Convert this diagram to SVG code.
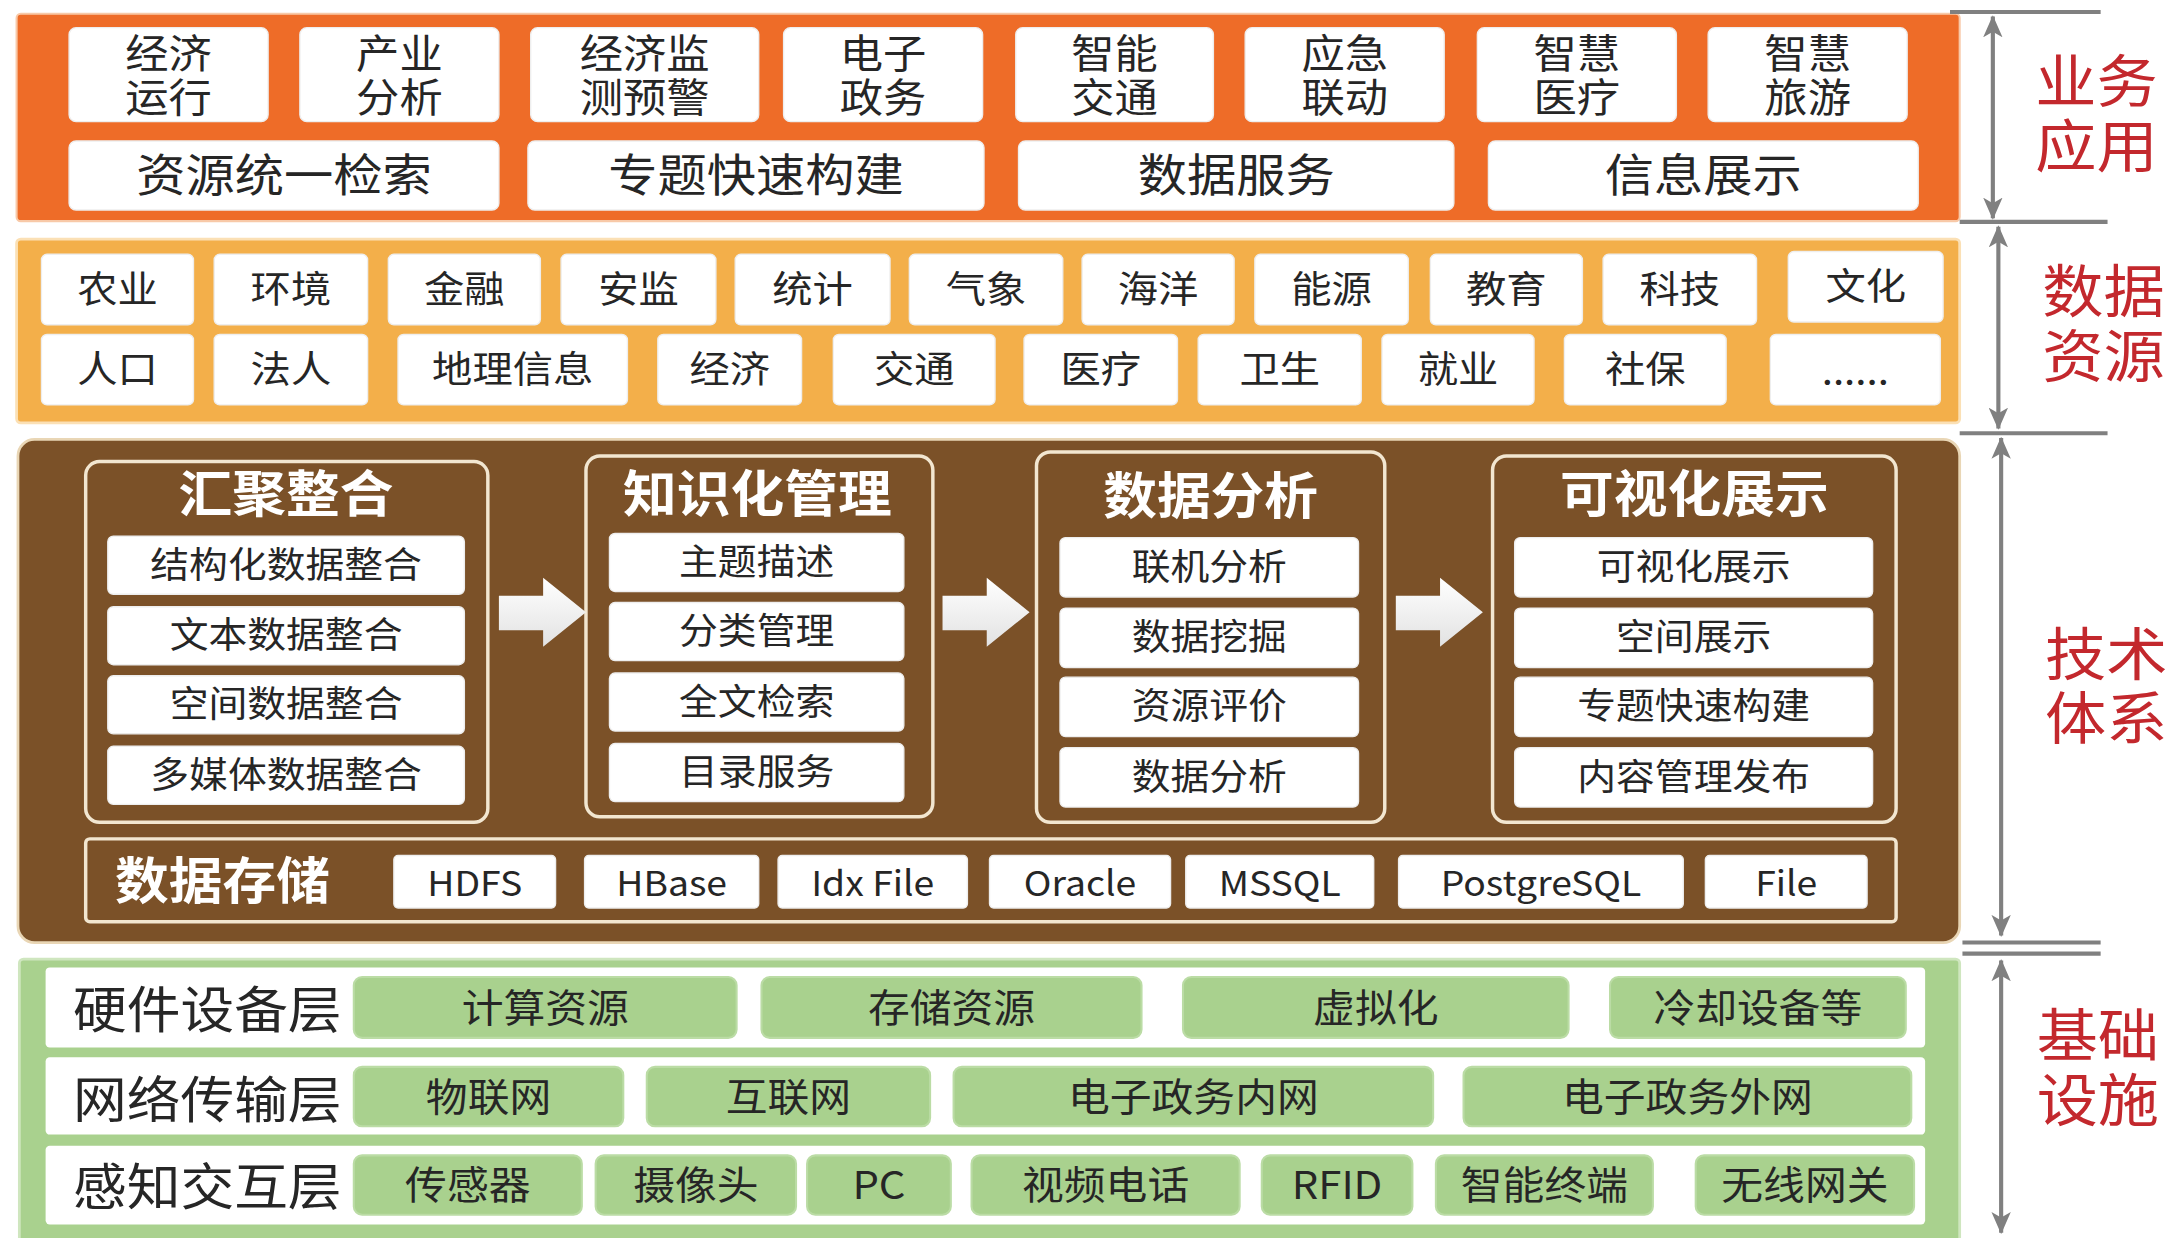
<svg xmlns="http://www.w3.org/2000/svg" width="2167" height="1238" viewBox="0 0 2167 1238">
<defs>
<style>
.t{font-family:"Noto Sans CJK SC","Noto Sans",sans-serif;text-anchor:middle;dominant-baseline:central;fill:#262626;transform-box:fill-box;transform-origin:center;transform:translateY(-2px) scaleX(1.08)}
.f29{font-size:29px}.f33{font-size:33px}.f27{font-size:27px}.f26{font-size:26px}.f28{font-size:28px}.f36{font-size:36px}.f25{font-size:25px}
.title{font-size:36px;font-weight:700;fill:#ffffff}
.red{font-size:41px;fill:#C3282D}
.wb{fill:#ffffff;stroke:#eeeeee;stroke-width:1}
.gb{fill:#A9D18E;stroke:#BBDCA5;stroke-width:1.5}
.grp{fill:none;stroke:#F2E6D0;stroke-width:2.5}
.sc{stroke:#808080;stroke-width:3;fill:none}
.blk{fill:url(#ag)}
</style>
<marker id="ah" viewBox="0 0 16 14" refX="15" refY="7" markerWidth="16" markerHeight="14" markerUnits="userSpaceOnUse" orient="auto-start-reverse"><path d="M0,0 L16,7 L0,14 L4,7 Z" fill="#808080"/></marker>
<linearGradient id="ag" x1="0" y1="0" x2="0" y2="1"><stop offset="0" stop-color="#ffffff"/><stop offset="1" stop-color="#e2e2e2"/></linearGradient>
</defs>
<rect x="0" y="0" width="2167" height="1238" fill="#ffffff"/>
<g transform="scale(1.382)">
<g id="panels">
<rect x="12" y="10" width="1406" height="150" rx="3" fill="#EE6C28" stroke="#F8C9A8" stroke-width="1.5"/>
<rect x="12" y="173" width="1406" height="133" rx="3" fill="#F3AF4A" stroke="#FBE0B5" stroke-width="2"/>
<rect x="13" y="318" width="1405" height="364" rx="12" fill="#7B5128" stroke="#E9D6B5" stroke-width="2"/>
<rect x="14" y="694" width="1404" height="210" rx="3" fill="#A9D18E" stroke="#CFE6BF" stroke-width="2"/>
</g>

<g id="n-jjyx"><rect class="wb" x="50" y="20" width="144" height="68" rx="5"/><text class="t f29"><tspan x="122" y="39">经济</tspan><tspan x="122" y="70.5">运行</tspan></text></g>
<g id="n-cyfx"><rect class="wb" x="217" y="20" width="144" height="68" rx="5"/><text class="t f29"><tspan x="289" y="39">产业</tspan><tspan x="289" y="70.5">分析</tspan></text></g>
<g id="n-jjjc"><rect class="wb" x="384" y="20" width="165" height="68" rx="5"/><text class="t f29"><tspan x="466.5" y="39">经济监</tspan><tspan x="466.5" y="70.5">测预警</tspan></text></g>
<g id="n-dzzw"><rect class="wb" x="567" y="20" width="144" height="68" rx="5"/><text class="t f29"><tspan x="639" y="39">电子</tspan><tspan x="639" y="70.5">政务</tspan></text></g>
<g id="n-znjt"><rect class="wb" x="735" y="20" width="143" height="68" rx="5"/><text class="t f29"><tspan x="806.5" y="39">智能</tspan><tspan x="806.5" y="70.5">交通</tspan></text></g>
<g id="n-yjld"><rect class="wb" x="901" y="20" width="144" height="68" rx="5"/><text class="t f29"><tspan x="973" y="39">应急</tspan><tspan x="973" y="70.5">联动</tspan></text></g>
<g id="n-zhyl"><rect class="wb" x="1069" y="20" width="144" height="68" rx="5"/><text class="t f29"><tspan x="1141" y="39">智慧</tspan><tspan x="1141" y="70.5">医疗</tspan></text></g>
<g id="n-zhly"><rect class="wb" x="1236" y="20" width="144" height="68" rx="5"/><text class="t f29"><tspan x="1308" y="39">智慧</tspan><tspan x="1308" y="70.5">旅游</tspan></text></g>
<g id="n-zytyjs"><rect class="wb" x="50" y="102" width="311" height="50" rx="5"/><text class="t f33" x="205.5" y="127">资源统一检索</text></g>
<g id="n-ztksgj"><rect class="wb" x="382" y="102" width="330" height="50" rx="5"/><text class="t f33" x="547" y="127">专题快速构建</text></g>
<g id="n-sjfw"><rect class="wb" x="737" y="102" width="315" height="50" rx="5"/><text class="t f33" x="894.5" y="127">数据服务</text></g>
<g id="n-xxzs"><rect class="wb" x="1077" y="102" width="311" height="50" rx="5"/><text class="t f33" x="1232.5" y="127">信息展示</text></g>

<g id="n-ny"><rect class="wb" x="30" y="184" width="110" height="51" rx="4"/><text class="t f27" x="85" y="209.5">农业</text></g>
<g id="n-hj"><rect class="wb" x="155" y="184" width="111" height="51" rx="4"/><text class="t f27" x="210.5" y="209.5">环境</text></g>
<g id="n-jr"><rect class="wb" x="281" y="184" width="110" height="51" rx="4"/><text class="t f27" x="336" y="209.5">金融</text></g>
<g id="n-aj"><rect class="wb" x="406" y="184" width="112" height="51" rx="4"/><text class="t f27" x="462" y="209.5">安监</text></g>
<g id="n-tj"><rect class="wb" x="532" y="184" width="112" height="51" rx="4"/><text class="t f27" x="588" y="209.5">统计</text></g>
<g id="n-qx"><rect class="wb" x="658" y="184" width="111" height="51" rx="4"/><text class="t f27" x="713.5" y="209.5">气象</text></g>
<g id="n-hy"><rect class="wb" x="783" y="184" width="110" height="51" rx="4"/><text class="t f27" x="838" y="209.5">海洋</text></g>
<g id="n-nengy"><rect class="wb" x="908" y="184" width="111" height="51" rx="4"/><text class="t f27" x="963.5" y="209.5">能源</text></g>
<g id="n-jy"><rect class="wb" x="1035" y="184" width="110" height="51" rx="4"/><text class="t f27" x="1090" y="209.5">教育</text></g>
<g id="n-kj"><rect class="wb" x="1160" y="184" width="111" height="51" rx="4"/><text class="t f27" x="1215.5" y="209.5">科技</text></g>
<g id="n-wh"><rect class="wb" x="1294" y="182" width="112" height="51" rx="4"/><text class="t f27" x="1350" y="207.5">文化</text></g>
<g id="n-rk"><rect class="wb" x="30" y="242" width="110" height="51" rx="4"/><text class="t f27" x="85" y="267.5">人口</text></g>
<g id="n-fr"><rect class="wb" x="155" y="242" width="111" height="51" rx="4"/><text class="t f27" x="210.5" y="267.5">法人</text></g>
<g id="n-dlxx"><rect class="wb" x="288" y="242" width="166" height="51" rx="4"/><text class="t f27" x="371" y="267.5">地理信息</text></g>
<g id="n-jj"><rect class="wb" x="476" y="242" width="104" height="51" rx="4"/><text class="t f27" x="528" y="267.5">经济</text></g>
<g id="n-jt"><rect class="wb" x="603" y="242" width="117" height="51" rx="4"/><text class="t f27" x="661.5" y="267.5">交通</text></g>
<g id="n-yl"><rect class="wb" x="741" y="242" width="111" height="51" rx="4"/><text class="t f27" x="796.5" y="267.5">医疗</text></g>
<g id="n-ws"><rect class="wb" x="867" y="242" width="118" height="51" rx="4"/><text class="t f27" x="926" y="267.5">卫生</text></g>
<g id="n-jiuye"><rect class="wb" x="1000" y="242" width="110" height="51" rx="4"/><text class="t f27" x="1055" y="267.5">就业</text></g>
<g id="n-sb"><rect class="wb" x="1132" y="242" width="117" height="51" rx="4"/><text class="t f27" x="1190.5" y="267.5">社保</text></g>
<g id="n-more"><rect class="wb" x="1281" y="242" width="123" height="51" rx="4"/><text class="t f27" x="1342.5" y="269">......</text></g>

<g id="n-hjzh"><rect class="grp" x="62" y="334" width="291" height="261" rx="10"/><text class="t title" x="207" y="357">汇聚整合</text>
<rect class="wb" x="78" y="388" width="258" height="42" rx="4"/><text class="t f26" x="207" y="409">结构化数据整合</text>
<rect class="wb" x="78" y="439" width="258" height="42" rx="4"/><text class="t f26" x="207" y="460">文本数据整合</text>
<rect class="wb" x="78" y="489" width="258" height="42" rx="4"/><text class="t f26" x="207" y="510">空间数据整合</text>
<rect class="wb" x="78" y="540" width="258" height="42" rx="4"/><text class="t f26" x="207" y="561">多媒体数据整合</text></g>
<g id="n-zshgl"><rect class="grp" x="424" y="330" width="251" height="261" rx="10"/><text class="t title" x="548" y="357">知识化管理</text>
<rect class="wb" x="441" y="386" width="213" height="42" rx="4"/><text class="t f26" x="547.5" y="407">主题描述</text>
<rect class="wb" x="441" y="436" width="213" height="42" rx="4"/><text class="t f26" x="547.5" y="457">分类管理</text>
<rect class="wb" x="441" y="487" width="213" height="42" rx="4"/><text class="t f26" x="547.5" y="508">全文检索</text>
<rect class="wb" x="441" y="538" width="213" height="42" rx="4"/><text class="t f26" x="547.5" y="559">目录服务</text></g>
<g id="n-sjfx"><rect class="grp" x="750" y="327" width="252" height="268" rx="10"/><text class="t title" x="876" y="358">数据分析</text>
<rect class="wb" x="767" y="389" width="216" height="43" rx="4"/><text class="t f26" x="875" y="410.5">联机分析</text>
<rect class="wb" x="767" y="440" width="216" height="43" rx="4"/><text class="t f26" x="875" y="461.5">数据挖掘</text>
<rect class="wb" x="767" y="490" width="216" height="43" rx="4"/><text class="t f26" x="875" y="511.5">资源评价</text>
<rect class="wb" x="767" y="541" width="216" height="43" rx="4"/><text class="t f26" x="875" y="562.5">数据分析</text></g>
<g id="n-kshzs"><rect class="grp" x="1080" y="330" width="292" height="265" rx="10"/><text class="t title" x="1226" y="357">可视化展示</text>
<rect class="wb" x="1096" y="389" width="259" height="43" rx="4"/><text class="t f26" x="1225.5" y="410.5">可视化展示</text>
<rect class="wb" x="1096" y="440" width="259" height="43" rx="4"/><text class="t f26" x="1225.5" y="461.5">空间展示</text>
<rect class="wb" x="1096" y="490" width="259" height="43" rx="4"/><text class="t f26" x="1225.5" y="511.5">专题快速构建</text>
<rect class="wb" x="1096" y="541" width="259" height="43" rx="4"/><text class="t f26" x="1225.5" y="562.5">内容管理发布</text></g>
<g id="n-sjcc"><rect class="grp" x="62" y="607" width="1310" height="60" rx="3" stroke-width="2"/><text class="t title" x="161" y="637">数据存储</text>
<rect class="wb" x="285" y="619" width="117" height="38" rx="3"/><text class="t f25" x="343.5" y="639">HDFS</text>
<rect class="wb" x="423" y="619" width="126" height="38" rx="3"/><text class="t f25" x="486" y="639">HBase</text>
<rect class="wb" x="563" y="619" width="137" height="38" rx="3"/><text class="t f25" x="631.5" y="639">Idx File</text>
<rect class="wb" x="716" y="619" width="131" height="38" rx="3"/><text class="t f25" x="781.5" y="639">Oracle</text>
<rect class="wb" x="858" y="619" width="136" height="38" rx="3"/><text class="t f25" x="926" y="639">MSSQL</text>
<rect class="wb" x="1012" y="619" width="206" height="38" rx="3"/><text class="t f25" x="1115" y="639">PostgreSQL</text>
<rect class="wb" x="1234" y="619" width="117" height="38" rx="3"/><text class="t f25" x="1292.5" y="639">File</text></g>

<g id="n-yjsbc"><rect x="33" y="700" width="1360" height="58" rx="3" fill="#ffffff"/><text class="t f36" x="150" y="730">硬件设备层</text>
<rect class="gb" x="256" y="707" width="277" height="44" rx="6"/><text class="t f28" x="394.5" y="729">计算资源</text>
<rect class="gb" x="551" y="707" width="275" height="44" rx="6"/><text class="t f28" x="688.5" y="729">存储资源</text>
<rect class="gb" x="856" y="707" width="279" height="44" rx="6"/><text class="t f28" x="995.5" y="729">虚拟化</text>
<rect class="gb" x="1165" y="707" width="214" height="44" rx="6"/><text class="t f28" x="1272" y="729">冷却设备等</text></g>
<g id="n-wlcsc"><rect x="33" y="765" width="1360" height="56" rx="3" fill="#ffffff"/><text class="t f36" x="150" y="795">网络传输层</text>
<rect class="gb" x="256" y="772" width="195" height="43" rx="6"/><text class="t f28" x="353.5" y="793.5">物联网</text>
<rect class="gb" x="468" y="772" width="205" height="43" rx="6"/><text class="t f28" x="570.5" y="793.5">互联网</text>
<rect class="gb" x="690" y="772" width="347" height="43" rx="6"/><text class="t f28" x="863.5" y="793.5">电子政务内网</text>
<rect class="gb" x="1059" y="772" width="324" height="43" rx="6"/><text class="t f28" x="1221" y="793.5">电子政务外网</text></g>
<g id="n-gzjhc"><rect x="33" y="829" width="1360" height="57" rx="3" fill="#ffffff"/><text class="t f36" x="150" y="858.5">感知交互层</text>
<rect class="gb" x="256" y="836" width="165" height="43" rx="6"/><text class="t f28" x="338.5" y="857.5">传感器</text>
<rect class="gb" x="431" y="836" width="145" height="43" rx="6"/><text class="t f28" x="503.5" y="857.5">摄像头</text>
<rect class="gb" x="584" y="836" width="104" height="43" rx="6"/><text class="t f28" x="636" y="857.5">PC</text>
<rect class="gb" x="703" y="836" width="194" height="43" rx="6"/><text class="t f28" x="800" y="857.5">视频电话</text>
<rect class="gb" x="913" y="836" width="109" height="43" rx="6"/><text class="t f28" x="967.5" y="857.5">RFID</text>
<rect class="gb" x="1039" y="836" width="157" height="43" rx="6"/><text class="t f28" x="1117.5" y="857.5">智能终端</text>
<rect class="gb" x="1227" y="836" width="158" height="43" rx="6"/><text class="t f28" x="1306" y="857.5">无线网关</text></g>

<g id="connectors">
<polygon class="blk" points="361,431 393,431 393,418 424,443 393,468 393,456 361,456"/>
<polygon class="blk" points="682,431 714,431 714,418 745,443 714,468 714,456 682,456"/>
<polygon class="blk" points="1010,431 1042,431 1042,418 1073,443 1042,468 1042,456 1010,456"/>
</g>

<g id="scale">
<line class="sc" x1="1411" y1="8.7" x2="1520" y2="8.7"/>
<line class="sc" x1="1418" y1="160.5" x2="1525" y2="160.5"/>
<line class="sc" x1="1418" y1="313.5" x2="1525" y2="313.5"/>
<line class="sc" x1="1420" y1="682" x2="1520" y2="682"/>
<line class="sc" x1="1420" y1="690" x2="1520" y2="690"/>
<line class="sc" x1="1442" y1="12" x2="1442" y2="158" marker-start="url(#ah)" marker-end="url(#ah)"/>
<line class="sc" x1="1446" y1="164" x2="1446" y2="310" marker-start="url(#ah)" marker-end="url(#ah)"/>
<line class="sc" x1="1448" y1="317" x2="1448" y2="677" marker-start="url(#ah)" marker-end="url(#ah)"/>
<line class="sc" x1="1448" y1="695" x2="1448" y2="892" marker-start="url(#ah)" marker-end="url(#ah)"/>
</g>
<g id="layer-labels">
<text class="t red"><tspan x="1517" y="58">业务</tspan><tspan x="1517" y="105">应用</tspan></text>
<text class="t red"><tspan x="1522" y="210">数据</tspan><tspan x="1522" y="257">资源</tspan></text>
<text class="t red"><tspan x="1524" y="472">技术</tspan><tspan x="1524" y="519">体系</tspan></text>
<text class="t red"><tspan x="1518" y="748">基础</tspan><tspan x="1518" y="795">设施</tspan></text>
</g>
</g>
</svg>
